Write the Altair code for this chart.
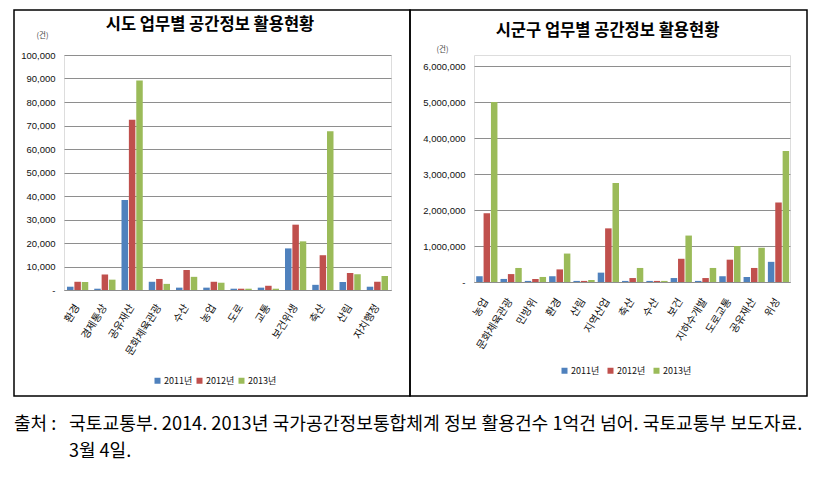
import altair as alt
import pandas as pd

years = ["2011년", "2012년", "2013년"]
colors = ["#4F81BD", "#C0504D", "#9BBB59"]

sido_title = "시도 업무별 공간정보 활용현황"
sido_cats = ["환경", "경제통상", "공유재산", "문화체육관광", "수산", "농업", "도로", "교통",
             "보건위생", "축산", "산림", "자치행정"]
sido_2011 = [1400, 550, 38300, 3500, 1000, 1000, 550, 1000, 17700, 2200, 3400, 1400]
sido_2012 = [3500, 6600, 72500, 4700, 8500, 3500, 550, 1800, 27800, 14800, 7200, 3500]
sido_2013 = [3400, 4400, 89200, 2600, 5600, 3100, 550, 550, 20700, 67600, 6700, 6000]
sido_ticks = [0, 10000, 20000, 30000, 40000, 50000, 60000, 70000, 80000, 90000, 100000]

sgg_title = "시군구 업무별 공간정보 활용현황"
sgg_cats = ["농업", "문화체육관광", "민방위", "환경", "산림", "지역산업", "축산", "수산", "보건",
            "지하수개발", "도로교통", "공유재산", "위성"]
sgg_2011 = [160000, 85000, 30000, 160000, 30000, 260000, 30000, 30000, 110000, 30000, 160000, 140000, 560000]
sgg_2012 = [1910000, 220000, 85000, 350000, 30000, 1490000, 110000, 30000, 645000, 110000, 620000, 390000, 2210000]
sgg_2013 = [5000000, 390000, 140000, 790000, 56000, 2750000, 390000, 30000, 1290000, 390000, 1000000, 950000, 3640000]
sgg_ticks = [0, 1000000, 2000000, 3000000, 4000000, 5000000, 6000000]

caption_head = "출처 :"
caption_body = "국토교통부. 2014. 2013년 국가공간정보통합체계 정보 활용건수 1억건 넘어. 국토교통부 보도자료."
caption_line2 = "3월 4일."

KFONT = "Noto Sans CJK KR"
GRID = "#8e8e8e"


def long_df(cats, a, b, c):
    rows = []
    for i, cat in enumerate(cats):
        for y, v in zip(years, (a[i], b[i], c[i])):
            rows.append({"cat": cat, "year": y, "value": v})
    return pd.DataFrame(rows)


def text_layer(txt, x, y, size, weight="normal", align="center", font=KFONT, color="black"):
    return alt.Chart(pd.DataFrame({"t": [txt]})).mark_text(
        font=font, fontSize=size, fontWeight=weight, align=align, baseline="middle", color=color
    ).encode(text="t:N", x=alt.value(x), y=alt.value(y))


def panel(cats, a, b, c, ticks, ymax, w, h, pad_in, frame, title, title_xy, unit_xy, legend_xy,
          lab_pad, col_pad, extra=()):
    df = long_df(cats, a, b, c)
    bars = alt.Chart(df).mark_bar().encode(
        x=alt.X("cat:N", sort=cats,
                scale=alt.Scale(paddingInner=pad_in, paddingOuter=pad_in / 2),
                axis=alt.Axis(title=None, labelAngle=-58, labelFont=KFONT, labelFontSize=10.5,
                              labelColor="#111", ticks=False, domainColor=GRID, domainWidth=1,
                              labelPadding=lab_pad)),
        xOffset=alt.XOffset("year:N", sort=years, scale=alt.Scale(paddingInner=0.12)),
        y=alt.Y("value:Q", scale=alt.Scale(domain=[0, ymax], nice=False, zero=True),
                axis=alt.Axis(values=ticks, domain=False, ticks=False, grid=True,
                              gridColor=GRID, gridWidth=1,
                              labelExpr="datum.value == 0 ? '-' : format(datum.value, ',')",
                              labelFont="Liberation Sans", labelFontSize=9.5, labelColor="#111",
                              labelPadding=9,
                              title="(건)", titleAngle=0, titleFont=KFONT, titleFontSize=7.5,
                              titleFontWeight="normal", titleColor="#444",
                              titleX=unit_xy[0], titleY=unit_xy[1], titleAlign="center",
                              titleBaseline="middle")),
        color=alt.Color("year:N", sort=years, scale=alt.Scale(domain=years, range=colors),
                        legend=alt.Legend(orient="none", legendX=legend_xy[0], legendY=legend_xy[1],
                                          direction="horizontal", title=None, symbolType="square",
                                          symbolSize=36, symbolStrokeWidth=0, labelFont=KFONT,
                                          labelFontSize=9, labelColor="#111", symbolOffset=0,
                                          labelOffset=2, columnPadding=col_pad)),
    )
    fr = alt.Chart(pd.DataFrame({"f": [0]})).mark_rect(
        fillOpacity=0, stroke="black", strokeWidth=1.5
    ).encode(x=alt.value(frame[0]), x2=alt.value(frame[1]), y=alt.value(frame[2]), y2=alt.value(frame[3]))
    ttl = text_layer(title, title_xy[0], title_xy[1], 16.5, weight="bold")
    layers = [fr, bars, ttl] + list(extra)
    return alt.layer(*layers).properties(width=w, height=h)


LW, LH = 327, 235
RW, RH = 316, 227

left = panel(sido_cats, sido_2011, sido_2012, sido_2013, sido_ticks, 100000, LW, LH, 0.22,
             (-50, LW + 19, -45, LH + 106), sido_title, (146, -30.5), (-22, -20), (89, 321), 15, 2,
             extra=(text_layer(caption_head, -50, 370, 18, align="left"),
                    text_layer(caption_body, 5, 370, 18.2, align="left"),
                    text_layer(caption_line2, 5, 397, 18, align="left")))

right = panel(sgg_cats, sgg_2011, sgg_2012, sgg_2013, sgg_ticks, 6000000 * RH / 216, RW, RH, 0.18,
              (-64, RW + 17, -45, RH + 114), sgg_title, (133.5, -24), (-32, -6), (86, 311), 17, 6)

chart = alt.hconcat(left, right, spacing=83, bounds="flush").resolve_scale(
    color="independent", x="independent", y="independent"
).properties(
    padding={"left": 4, "top": 0, "right": 0, "bottom": 0}
).configure_view(stroke=None).configure(background="white")

chart.save("out.html", embed_options={"renderer": "svg", "actions": False})
